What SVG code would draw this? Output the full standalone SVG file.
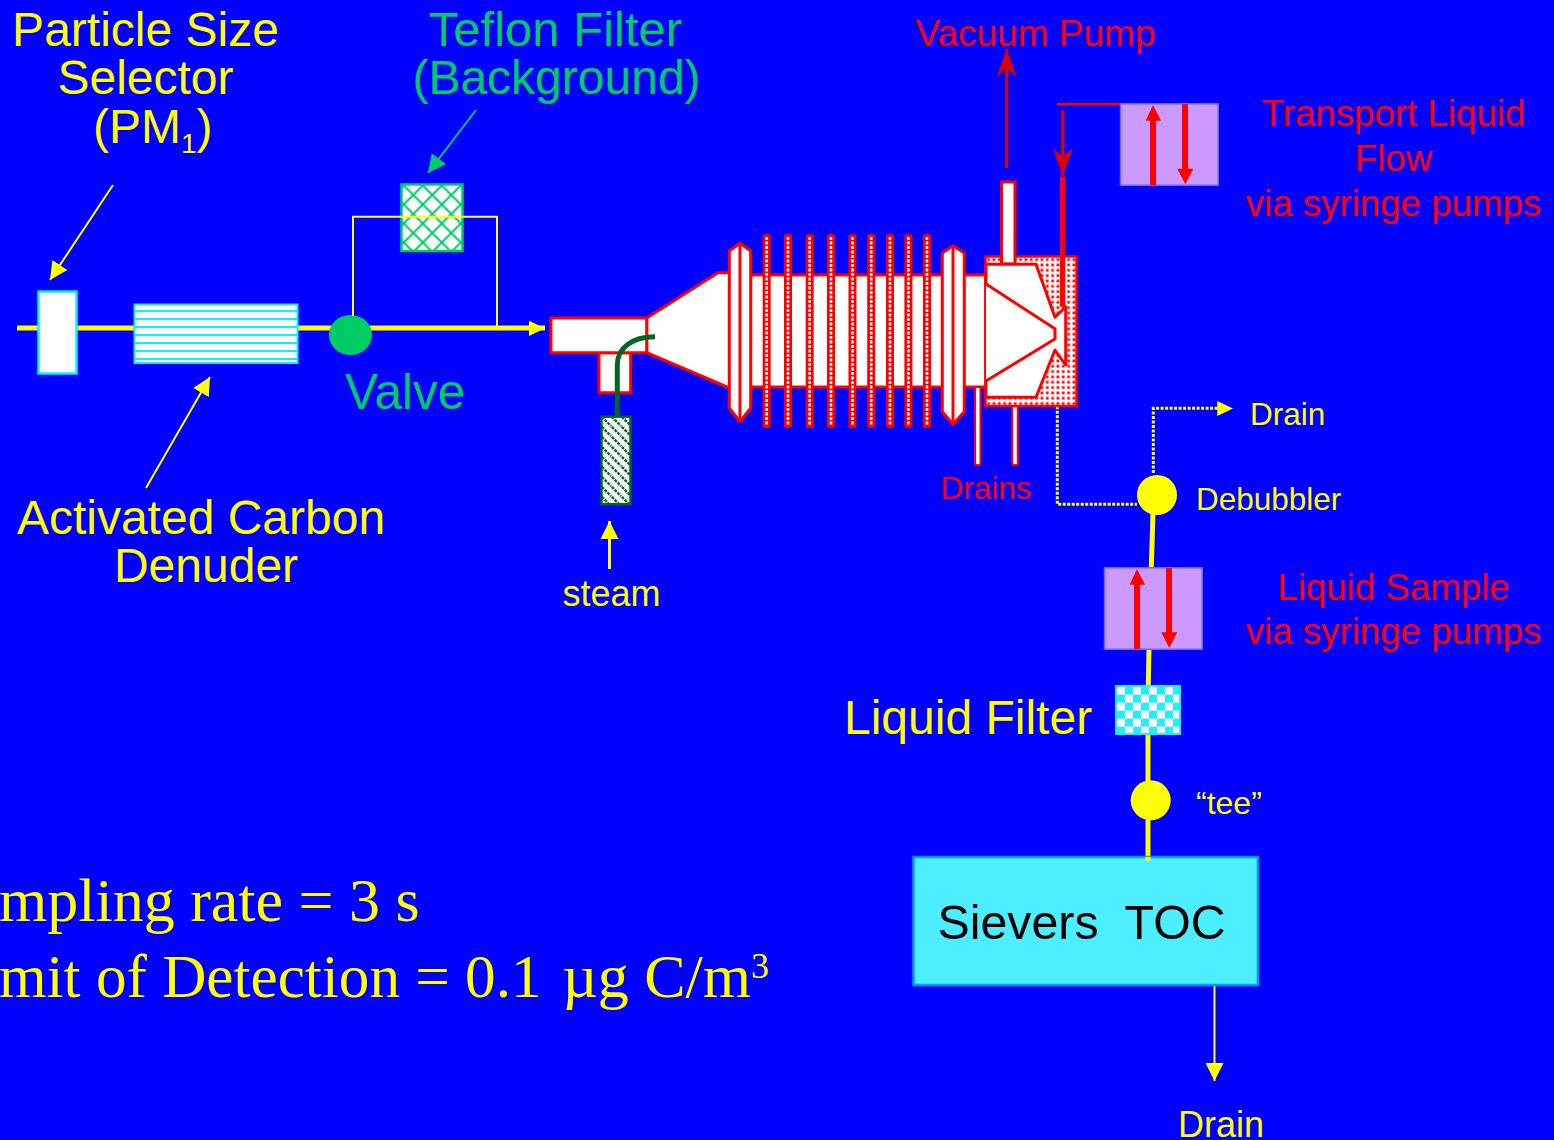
<svg xmlns="http://www.w3.org/2000/svg" width="1554" height="1140" viewBox="0 0 1554 1140">
<style>
text{font-family:"Liberation Sans",Arial,sans-serif}
.y{fill:#ffff00}.g{fill:#00cc66}.r{fill:#ff0000}
.c{text-anchor:middle}
.s48{font-size:48px}.s36{font-size:36px}.s37{font-size:36.700px}.s32{font-size:31.500px}
.serif{font-family:"Liberation Serif","Times New Roman",serif;font-size:62px;fill:#ffff00}
.part{fill:#fff;stroke:#ff0000;stroke-width:3;stroke-linejoin:round}
.redbar{fill:#ff0000}
.yl{stroke:#ffff00;fill:none}
.pump{fill:#cc99ff;stroke:#6666ff;stroke-width:1.500}
.dots{stroke:#ffff00;stroke-width:3;stroke-dasharray:3 1.500;fill:none}
</style>
<defs>
<pattern id="cross" width="19" height="19" patternUnits="userSpaceOnUse" x="403.800" y="185.500">
<rect width="19" height="19" fill="#fff"/>
<path d="M0 0L19 19M19 0L0 19" stroke="#00cc66" stroke-width="2"/>
</pattern>
<pattern id="hatch" width="10" height="10" patternUnits="userSpaceOnUse" x="601" y="416">
<rect width="10" height="10" fill="#fff"/>
<path d="M-2 -2L12 12M-2 8L2 12M8 -2L12 2" stroke="#006622" stroke-width="2.400" stroke-dasharray="3 1"/>
</pattern>
<pattern id="dots" width="5.330" height="5.330" patternUnits="userSpaceOnUse" x="986" y="257">
<rect width="5.330" height="5.330" fill="#fff"/>
<rect x="1.300" y="1.300" width="2.700" height="2.700" fill="#ff0000"/>
</pattern>
<pattern id="check" width="16" height="16" patternUnits="userSpaceOnUse" x="1117" y="686.700">
<rect width="16" height="16" fill="#22eeff"/>
<rect width="8" height="8" fill="#fff"/>
<rect x="8" y="8" width="8" height="8" fill="#fff"/>
</pattern>
<pattern id="stripes" width="8" height="8" patternUnits="userSpaceOnUse" x="134" y="304">
<rect width="8" height="8" fill="#fff"/>
<rect y="6" width="8" height="2" fill="#11eeff"/>
</pattern>
<g id="fin"><rect x="0" y="234" width="8" height="194" rx="2.500" fill="#ff0000"/><path d="M4 237V425" stroke="#fff" stroke-width="2.500" stroke-dasharray="3 1.500"/></g>
<marker id="ay" markerUnits="userSpaceOnUse" markerWidth="18" markerHeight="18" refX="16" refY="8" orient="auto" viewBox="0 0 16 16"><path d="M0 0L16 8L0 16Z" fill="#ffff00"/></marker>
<marker id="ag" markerUnits="userSpaceOnUse" markerWidth="18" markerHeight="18" refX="16" refY="8" orient="auto" viewBox="0 0 16 16"><path d="M0 0L16 8L0 16Z" fill="#00cc66"/></marker>
<marker id="ar" markerUnits="userSpaceOnUse" markerWidth="30" markerHeight="24" refX="28" refY="10" orient="auto" viewBox="0 0 30 24"><path d="M0 0L28 10L0 20L9 10Z" fill="#dd0000"/></marker>
</defs>
<rect id="background" width="1554" height="1140" fill="#0000ff"/>

<g id="connectors">
<path d="M17 328H545" stroke="#ffff00" stroke-width="5" fill="none"/>
<path d="M1153 513L1151.300 568M1149 649L1148.300 686M1148 735V782M1148 820V861" stroke="#ffff00" stroke-width="5" fill="none"/>
<path class="dots" d="M1057.300 392.700V504.300H1137"/>
<path class="dots" d="M1153.300 473V408.300H1218"/>
<path d="M1217.300 401L1233 408.500L1217.300 416Z" fill="#ffff00"/>
<path d="M529 320.700L545 328.300L529 336Z" fill="#ffff00"/>
<path class="yl" stroke-width="2" d="M113 185L50 280" marker-end="url(#ay)"/>
<path d="M476 110L428 173" stroke="#00cc66" stroke-width="2" marker-end="url(#ag)" fill="none"/>
<path class="yl" stroke-width="2" d="M146 488L210 377" marker-end="url(#ay)"/>
<path class="yl" stroke-width="3" d="M609.500 569V521" marker-end="url(#ay)"/>
<path class="yl" stroke-width="2" d="M1214.500 985V1081" marker-end="url(#ay)"/>
<path d="M1006.700 168V49" stroke="#dd0000" stroke-width="3" fill="none" marker-end="url(#ar)"/>
<path d="M1062.700 110V176" stroke="#dd0000" stroke-width="3" fill="none" marker-end="url(#ar)"/>
<path d="M1057 104.300H1121" stroke="#ff0000" stroke-width="2.500" fill="none"/>
</g>

<g id="selector"><rect x="38.500" y="291.500" width="38" height="82" fill="#fff" stroke="#11eeff" stroke-width="2.500"/>
<text class="s48 y c" x="145.500" y="46">Particle Size</text><text class="s48 y c" x="145.500" y="94">Selector</text>
<text class="s48 y" x="93" y="143">(PM<tspan font-size="28" dy="10">1</tspan><tspan dy="-10">)</tspan></text></g>

<g id="denuder"><rect x="134.500" y="304.500" width="163" height="58.500" fill="url(#stripes)" stroke="#11eeff" stroke-width="2"/>
<text class="s48 y c" x="201" y="534">Activated Carbon</text><text class="s48 y c" x="206" y="582">Denuder</text></g>

<g id="valve"><ellipse cx="350.500" cy="335" rx="21.500" ry="20" fill="#00cc66"/>
<text class="g" font-size="49.600" x="345" y="409">Valve</text></g>

<g id="teflon-filter"><rect x="401.500" y="184.500" width="61" height="66.500" fill="url(#cross)" stroke="#00cc66" stroke-width="2.500"/>
<path class="yl" stroke-width="2" d="M353 316V216.700H497V328"/>
<text class="g c" font-size="49" x="555.500" y="46">Teflon Filter</text><text class="s48 g c" x="556.500" y="94">(Background)</text></g>

<g id="inlet">
<path class="part" d="M646.700 318L718 272.700H740V387H727L646.700 352.700Z"/>
<rect class="part" x="599" y="352.700" width="31.700" height="40"/>
<rect class="part" x="551" y="318" width="95.700" height="34.700"/>
</g>

<g id="steam"><rect x="601.500" y="416.700" width="29" height="87.500" fill="url(#hatch)" stroke="#006622" stroke-width="2.500"/>
<path d="M617.300 416V365C617.300 348 632 336.700 655 336.700" fill="none" stroke="#006622" stroke-width="5"/>
<text class="s36 y c" x="611.500" y="606">steam</text></g>

<g id="condenser">
<rect x="750" y="275" width="236" height="112" fill="#fff" stroke="#ff0000" stroke-width="3"/>
<use href="#fin" x="762.700"/><use href="#fin" x="784"/><use href="#fin" x="805.700"/><use href="#fin" x="827"/><use href="#fin" x="848.500"/><use href="#fin" x="867.200"/><use href="#fin" x="886"/><use href="#fin" x="904.400"/><use href="#fin" x="923"/>
<path class="part" d="M740 243.300L750.700 251V408L740 421.700L729.300 408V251Z"/>
<path d="M740 243.300V421.700" stroke="#ff0000" stroke-width="3"/>
<path class="part" d="M953 245.700L964.300 253V411.700L953 424.300L942.300 411.700V253Z"/>
<path d="M953 245.700V424.300" stroke="#ff0000" stroke-width="3"/>
</g>

<g id="impactor">
<rect x="975" y="387" width="5.500" height="78" rx="1.500" fill="#fff" stroke="#ff0000" stroke-width="2"/>
<rect x="1012.300" y="399" width="5.500" height="66" rx="1.500" fill="#fff" stroke="#ff0000" stroke-width="2"/>
<rect x="985.500" y="256.500" width="91" height="149.500" fill="url(#dots)" stroke="#ff0000" stroke-width="2.500"/>
<rect class="part" x="1001.500" y="182" width="13.500" height="82" stroke-width="2.500"/>
<path class="part" d="M986 264.300H1036L1055 317.300L1065.700 306.700V365L1055 350L1036 397.300H986Z"/>
<path d="M986 284L1055 328.700V339L986 381" fill="#fff" stroke="#ff0000" stroke-width="3"/>
<rect class="redbar" x="1060" y="176.700" width="5.300" height="130"/>
<text class="r c" font-size="31.500" x="986" y="499">Drains</text>
<text class="r c" font-size="37" x="1035.500" y="46">Vacuum Pump</text>
</g>

<g id="transport-pump"><rect class="pump" x="1120.500" y="103.700" width="97.800" height="81.600"/>
<path class="redbar" d="M1150 185V120.700H1145.700L1153 105L1161 120.700H1156V185Z"/>
<path class="redbar" d="M1182 104V168.700H1177.300L1185.300 184.300L1193.300 168.700H1188V104Z"/>
<text class="s37 r c" x="1393.500" y="126">Transport Liquid</text><text class="s37 r c" x="1393.500" y="171">Flow</text><text class="s37 r c" x="1393.500" y="216">via syringe pumps</text></g>

<g id="debubbler"><circle cx="1157" cy="495" r="20" fill="#ffff00"/>
<text class="s32 y" x="1196" y="510">Debubbler</text>
<text class="s32 y" x="1250" y="425">Drain</text></g>

<g id="sample-pump"><rect class="pump" x="1104.500" y="567.700" width="97.800" height="81.600"/>
<path class="redbar" d="M1134 649V584.700H1129.700L1137 569L1145 584.700H1140V649Z"/>
<path class="redbar" d="M1166 568V632.300H1161.300L1169.300 648L1177.300 632.300H1172V568Z"/>
<text class="s37 r c" x="1393.500" y="600">Liquid Sample</text><text class="s37 r c" x="1393.500" y="644">via syringe pumps</text></g>

<g id="liquid-filter"><rect x="1116" y="686" width="64" height="48" fill="url(#check)" stroke="#22eeff" stroke-width="2"/>
<text class="s48 y" x="844" y="734">Liquid Filter</text></g>

<g id="tee"><circle cx="1150.700" cy="800.300" r="20" fill="#ffff00"/>
<text class="y" font-size="32" x="1196" y="814">“tee”</text></g>

<g id="toc">
<rect x="913.500" y="857" width="344.500" height="128" fill="#4ceeff" stroke="#0099ff" stroke-width="2.500"/>
<path d="M1148 857V861" stroke="#ffff00" stroke-width="5"/>
<text font-size="48.300" x="937.500" y="939" fill="#000" xml:space="preserve">Sievers  TOC</text>
<text class="s36 y" x="1178" y="1137">Drain</text></g>

<g id="notes"><text class="serif" x="-1" y="921">mpling rate = 3 s</text>
<text class="serif" x="-1" y="997" font-size="61.200" style="font-size:61.200px">mit of Detection = 0.1 <tspan x="562" style="font-size:62px">µg C/m</tspan><tspan font-size="36" style="font-size:36px" dy="-19">3</tspan></text></g>
</svg>
